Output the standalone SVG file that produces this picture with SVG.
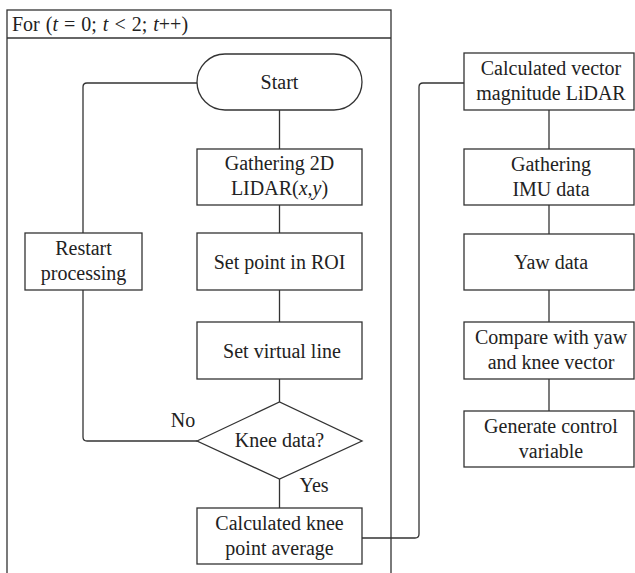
<svg xmlns="http://www.w3.org/2000/svg" width="635" height="573" viewBox="0 0 635 573">
<style>
.b{fill:#fff;stroke:#333;stroke-width:1.3}
.c{fill:none;stroke:#333;stroke-width:1.3}
text{font-family:"Liberation Serif","Times New Roman",serif;font-size:20px;fill:#222;text-anchor:middle}
.l{text-anchor:start}
</style>
<rect width="635" height="573" fill="#fff"/>
<g id="frame">
<rect class="c" x="7" y="10" width="384" height="580"/>
<line class="c" x1="7" y1="38" x2="391" y2="38"/>
<text class="l" x="12" y="31" style="font-size:20px;word-spacing:1px">For (<tspan font-style="italic">t</tspan> = 0; <tspan font-style="italic">t</tspan> &lt; 2; <tspan font-style="italic">t</tspan>++)</text>
</g>
<g id="connectors">
<line class="c" x1="279.5" y1="110" x2="279.5" y2="149"/>
<line class="c" x1="279.5" y1="205" x2="279.5" y2="233"/>
<line class="c" x1="279.5" y1="290" x2="279.5" y2="322"/>
<line class="c" x1="279.5" y1="379" x2="279.5" y2="402"/>
<line class="c" x1="279.5" y1="479" x2="279.5" y2="508"/>
<path class="c" d="M197,441 H87 Q83,441 83,437 V290"/>
<path class="c" d="M83,233 V87 Q83,83 87,83 H197"/>
<path class="c" d="M362,538 H415 Q419,538 419,534 V87 Q419,83 423,83 H464"/>
<line class="c" x1="549" y1="110" x2="549" y2="149"/>
<line class="c" x1="549" y1="205" x2="549" y2="234"/>
<line class="c" x1="549" y1="290" x2="549" y2="322"/>
<line class="c" x1="549" y1="379" x2="549" y2="411"/>
<text x="183" y="427">No</text>
<text x="314" y="492">Yes</text>
</g>
<g id="start">
<rect class="b" x="197" y="54" width="165" height="56" rx="28" ry="28"/>
<text x="279.5" y="89">Start</text>
</g>
<g id="gather2d">
<rect class="b" x="197" y="149" width="165" height="56"/>
<text x="279.5" y="170">Gathering 2D</text>
<text x="279.5" y="195">LIDAR(<tspan font-style="italic">x</tspan>,<tspan font-style="italic">y</tspan>)</text>
</g>
<g id="roi">
<rect class="b" x="197" y="233" width="165" height="57"/>
<text x="279.5" y="269">Set point in ROI</text>
</g>
<g id="vline">
<rect class="b" x="197" y="322" width="165" height="57"/>
<text x="282" y="358">Set virtual line</text>
</g>
<g id="knee">
<polygon class="b" points="197,441 279.5,402 362,441 279.5,479"/>
<text x="279.5" y="447">Knee data?</text>
</g>
<g id="kneeavg">
<rect class="b" x="197" y="508" width="165" height="56"/>
<text x="279.5" y="530">Calculated knee</text>
<text x="279.5" y="555">point average</text>
</g>
<g id="restart">
<rect class="b" x="25" y="233" width="117" height="57"/>
<text x="83.5" y="255">Restart</text>
<text x="83.5" y="280">processing</text>
</g>
<g id="vecmag">
<rect class="b" x="464" y="53" width="170" height="57"/>
<text x="551" y="75">Calculated vector</text>
<text x="551" y="100">magnitude LiDAR</text>
</g>
<g id="imu">
<rect class="b" x="464" y="149" width="170" height="56"/>
<text x="551" y="171">Gathering</text>
<text x="551" y="196">IMU data</text>
</g>
<g id="yaw">
<rect class="b" x="464" y="234" width="170" height="56"/>
<text x="551" y="269">Yaw data</text>
</g>
<g id="compare">
<rect class="b" x="464" y="322" width="170" height="57"/>
<text x="551" y="344">Compare with yaw</text>
<text x="551" y="369">and knee vector</text>
</g>
<g id="generate">
<rect class="b" x="464" y="411" width="170" height="56"/>
<text x="551" y="433">Generate control</text>
<text x="551" y="458">variable</text>
</g>
</svg>
